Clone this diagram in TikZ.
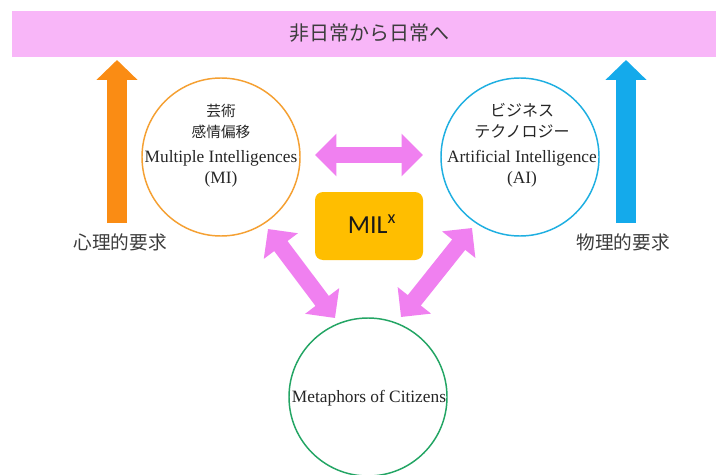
\documentclass[tikz,border=0pt]{standalone}
\usepackage{fontspec}
\setmainfont{Liberation Serif}
\newfontfamily\jpfont{Noto Sans CJK JP}
\newfontfamily\milfont{Carlito}
\usetikzlibrary{arrows.meta}
\definecolor{bannerpink}{RGB}{248,182,248}
\definecolor{arrowpink}{RGB}{240,128,240}
\definecolor{uporange}{RGB}{250,140,20}
\definecolor{upblue}{RGB}{20,170,235}
\definecolor{miorange}{RGB}{245,160,50}
\definecolor{aiblue}{RGB}{30,175,225}
\definecolor{citgreen}{RGB}{35,165,100}
\definecolor{milgold}{RGB}{255,190,0}
\definecolor{jpgray}{RGB}{60,60,60}
\newcommand\jpk{\jpfont\fontsize{11}{15.75}\selectfont}
\newcommand\jpt{\jpfont\fontsize{12}{15.75}\selectfont}
\tikzset{
  ring/.style={circle, draw=#1, line width=1.1pt, minimum size=118.5pt, inner sep=0pt},
  ringtext/.style={align=center, inner sep=0pt, text=black!85, font=\fontsize{13}{15.75}\selectfont},
  uparrow/.style={draw=#1, line width=15pt, -{Triangle[length=15pt,width=30pt]}},
  pinkarrow/.style={draw=arrowpink, line width=12.5pt, {Triangle[length=16pt,width=31pt]}-{Triangle[length=16pt,width=31pt]}},
  sidelabel/.style={text=jpgray, inner sep=0pt, font=\jpfont\fontsize{14}{16}\selectfont},
}
\begin{document}
\begin{tikzpicture}[x=0.75pt, y=-0.75pt]
\useasboundingbox (0,0) rectangle (716,474);
\fill[white] (0,0) rectangle (716,474);
% banner
\node[fill=bannerpink, minimum width=528pt, minimum height=34.5pt, inner sep=0pt, anchor=north west] (banner) at (12,11) {};
\node[text=jpgray, font=\jpfont\fontsize{15}{18}\selectfont] (bannertext) at (369,33) {非日常から日常へ};
% circles
\node[ring=miorange] (mi) at (221,157) {};
\node[ring=aiblue] (ai) at (520,157) {};
\node[ring=citgreen] (cit) at (368,397) {};
\node[ringtext] (mitext) at (221,146) {{\jpk 芸術}\\{\jpk 感情偏移}\\[3pt]Multiple Intelligences\\(MI)};
\node[ringtext] (aitext) at (522,145) {{\jpt ビジネス}\\{\jpt テクノロジー}\\[3pt]Artificial Intelligence\\(AI)};
\node[ringtext] (cittext) at (369,398) {Metaphors of Citizens};
% MIL box
\node[fill=milgold, rounded corners=6pt, minimum width=81pt, minimum height=51pt, inner sep=0pt] (mil) at (369,226) {};
\node[font=\milfont\fontsize{19.5}{22}\selectfont, text=black!90, inner sep=0pt] (miltext) at (372,224) {MIL\textsuperscript{x}};
% side labels
\node[sidelabel] (psy) at (120,242) {心理的要求};
\node[sidelabel] (phy) at (623,242) {物理的要求};
% up arrows
\coordinate (oBot) at (117,223);
\coordinate (oTop) at (117,60);
\coordinate (bBot) at (626,223);
\coordinate (bTop) at (626,60);
\draw[uparrow=uporange] (oBot) -- (oTop);
\draw[uparrow=upblue] (bBot) -- (bTop);
% pink double arrows
\coordinate (miR) at (315,155);
\coordinate (aiL) at (423,155);
\coordinate (miB) at (268,229);
\coordinate (citL) at (335,318);
\coordinate (aiB) at (472,228);
\coordinate (citR) at (401,317);
\draw[pinkarrow] (miR) -- (aiL);
\draw[pinkarrow] (miB) -- (citL);
\draw[pinkarrow] (aiB) -- (citR);
\end{tikzpicture}
\end{document}
